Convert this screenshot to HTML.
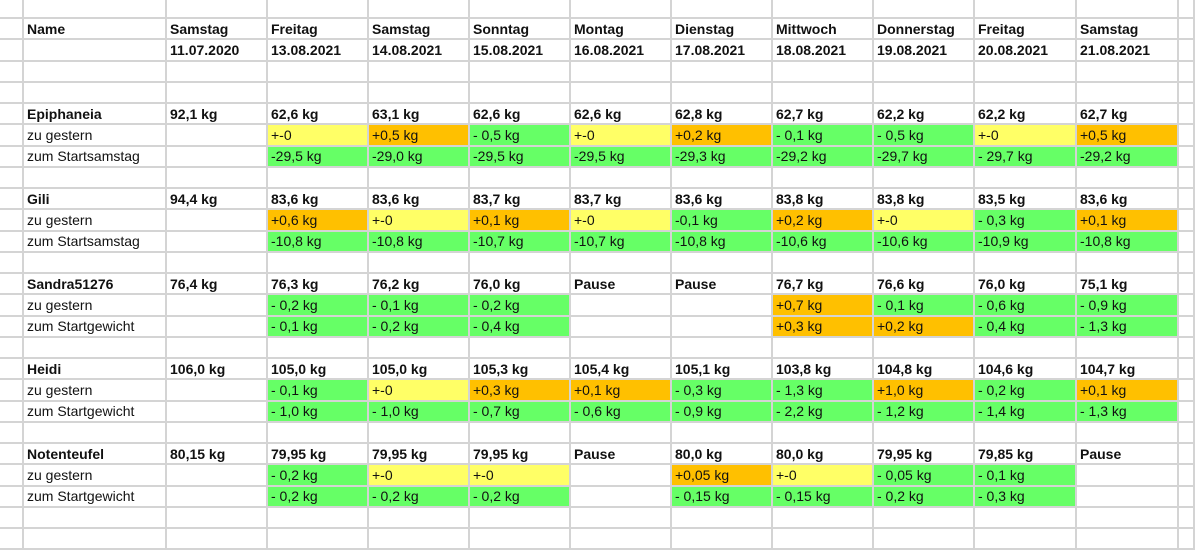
<!DOCTYPE html>
<html><head><meta charset="utf-8"><style>
body{margin:0;width:1195px;height:538px;background:#fff;overflow:hidden;position:relative;font-family:"Liberation Sans",Arial,sans-serif;}
.c{position:absolute;box-sizing:border-box;border-right:2px solid #d4d4d4;border-bottom:2px solid #d4d4d4;font-size:14px;color:#111;padding-left:3px;white-space:nowrap;overflow:hidden;display:flex;align-items:center;}
.b{font-weight:bold;}
.Y{background:#ffff66;}.O{background:#ffc000;}.G{background:#66ff66;}
</style></head><body>
<script>
const colX=[0,24,167,268,369,470,571,672,773,874,975,1077,1179,1195];
const rowTop=r=>r===0?-2:19+(r-1)*21.25;
const days=["Samstag","Freitag","Samstag","Sonntag","Montag","Dienstag","Mittwoch","Donnerstag","Freitag","Samstag"];
const dates=["11.07.2020","13.08.2021","14.08.2021","15.08.2021","16.08.2021","17.08.2021","18.08.2021","19.08.2021","20.08.2021","21.08.2021"];
const people=[
 {name:"Epiphaneia",start:"92,1 kg",w:["62,6 kg","63,1 kg","62,6 kg","62,6 kg","62,8 kg","62,7 kg","62,2 kg","62,2 kg","62,7 kg"],
  l1:"zu gestern",d1:["Y+-0","O+0,5 kg","G- 0,5 kg","Y+-0","O+0,2 kg","G- 0,1 kg","G- 0,5 kg","Y+-0","O+0,5 kg"],
  l2:"zum Startsamstag",d2:["G-29,5 kg","G-29,0 kg","G-29,5 kg","G-29,5 kg","G-29,3 kg","G-29,2 kg","G-29,7 kg","G- 29,7 kg","G-29,2 kg"]},
 {name:"Gili",start:"94,4 kg",w:["83,6 kg","83,6 kg","83,7 kg","83,7 kg","83,6 kg","83,8 kg","83,8 kg","83,5 kg","83,6 kg"],
  l1:"zu gestern",d1:["O+0,6 kg","Y+-0","O+0,1 kg","Y+-0","G-0,1 kg","O+0,2 kg","Y+-0","G- 0,3 kg","O+0,1 kg"],
  l2:"zum Startsamstag",d2:["G-10,8 kg","G-10,8 kg","G-10,7 kg","G-10,7 kg","G-10,8 kg","G-10,6 kg","G-10,6 kg","G-10,9 kg","G-10,8 kg"]},
 {name:"Sandra51276",start:"76,4 kg",w:["76,3 kg","76,2 kg","76,0 kg","Pause","Pause","76,7 kg","76,6 kg","76,0 kg","75,1 kg"],
  l1:"zu gestern",d1:["G- 0,2 kg","G- 0,1 kg","G- 0,2 kg","","","O+0,7 kg","G- 0,1 kg","G- 0,6 kg","G- 0,9 kg"],
  l2:"zum Startgewicht",d2:["G- 0,1 kg","G- 0,2 kg","G- 0,4 kg","","","O+0,3 kg","O+0,2 kg","G- 0,4 kg","G- 1,3 kg"]},
 {name:"Heidi",start:"106,0 kg",w:["105,0 kg","105,0 kg","105,3 kg","105,4 kg","105,1 kg","103,8 kg","104,8 kg","104,6 kg","104,7 kg"],
  l1:"zu gestern",d1:["G- 0,1 kg","Y+-0","O+0,3 kg","O+0,1 kg","G- 0,3 kg","G- 1,3 kg","O+1,0 kg","G- 0,2 kg","O+0,1 kg"],
  l2:"zum Startgewicht",d2:["G- 1,0 kg","G- 1,0 kg","G- 0,7 kg","G- 0,6 kg","G- 0,9 kg","G- 2,2 kg","G- 1,2 kg","G- 1,4 kg","G- 1,3 kg"]},
 {name:"Notenteufel",start:"80,15 kg",w:["79,95 kg","79,95 kg","79,95 kg","Pause","80,0 kg","80,0 kg","79,95 kg","79,85 kg","Pause"],
  l1:"zu gestern",d1:["G- 0,2 kg","Y+-0","Y+-0","","O+0,05 kg","Y+-0","G- 0,05 kg","G- 0,1 kg",""],
  l2:"zum Startgewicht",d2:["G- 0,2 kg","G- 0,2 kg","G- 0,2 kg","","G- 0,15 kg","G- 0,15 kg","G- 0,2 kg","G- 0,3 kg",""]}
];
const grid={};
function set(r,c,t,cls){grid[r+","+c]={t,cls};}
set(1,1,"Name","b");
days.forEach((d,i)=>set(1,i+2,d,"b"));
dates.forEach((d,i)=>set(2,i+2,d,"b"));
people.forEach((p,k)=>{
 const r=5+k*4;
 set(r,1,p.name,"b");set(r,2,p.start,"b");
 p.w.forEach((v,i)=>set(r,i+3,v,"b"));
 set(r+1,1,p.l1,"");set(r+2,1,p.l2,"");
 p.d1.forEach((v,i)=>{if(v)set(r+1,i+3,v.slice(1),v[0]);});
 p.d2.forEach((v,i)=>{if(v)set(r+2,i+3,v.slice(1),v[0]);});
});
for(let r=0;r<26;r++){
 for(let c=0;c<colX.length-1;c++){
  const el=document.createElement('div');
  const g=grid[r+","+c];
  el.className='c '+(g?g.cls:'');
  el.style.left=colX[c]+'px';el.style.width=(colX[c+1]-colX[c])+'px';
  const t=rowTop(r);el.style.top=t+'px';el.style.height=(rowTop(r+1)-t)+'px';
  if(g)el.textContent=g.t;
  
  
  document.body.appendChild(el);
 }
}
</script>
</body></html>
